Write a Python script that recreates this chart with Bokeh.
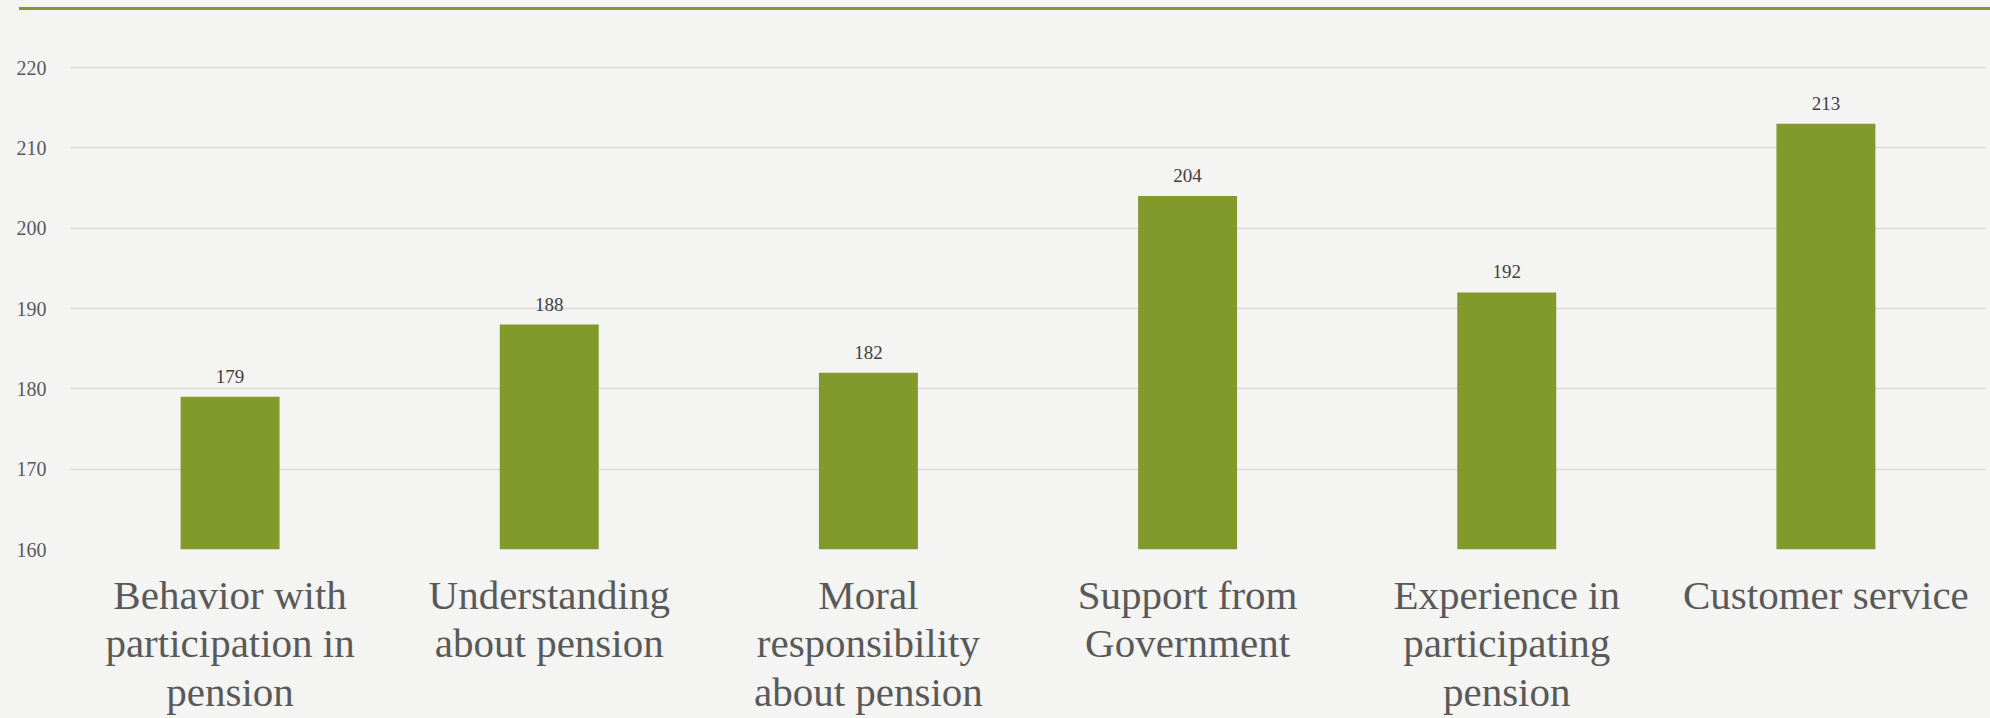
from bokeh.plotting import figure
from bokeh.models import Range1d, FixedTicker, Div, ColumnDataSource
from bokeh.layouts import column
from bokeh.core.properties import value
from bokeh.embed import file_html
from bokeh.resources import INLINE

categories = [
    "Behavior with\nparticipation in\npension",
    "Understanding\nabout pension",
    "Moral\nresponsibility\nabout pension",
    "Support from\nGovernment",
    "Experience in\nparticipating\npension",
    "Customer service",
]
scores = [179, 188, 182, 204, 192, 213]
y_ticks = [160, 170, 180, 190, 200, 210, 220]

BG = "#f4f4f3"
GREEN = "#82992c"
SERIF = "Liberation Serif"

source = ColumnDataSource(dict(cat=categories, score=scores, label=[str(v) for v in scores]))

p = figure(
    x_range=categories,
    y_range=Range1d(160, 220.25),
    width=1990,
    height=708,
    output_backend="svg",
    toolbar_location=None,
    min_border_left=70,
    min_border_right=5,
    min_border_top=55,
    min_border_bottom=150,
)
p.background_fill_color = BG
p.border_fill_color = BG
p.outline_line_color = None

p.vbar(x="cat", top="score", bottom=160, width=0.31, source=source,
       fill_color=GREEN, line_color=None)
p.text(x="cat", y="score", text="label", source=source,
       text_align="center", text_baseline="bottom", y_offset=-14,
       text_font=value(SERIF), text_font_size="19px", text_color="#404040")

p.yaxis.ticker = FixedTicker(ticks=y_ticks)
p.ygrid.ticker = FixedTicker(ticks=y_ticks)
p.ygrid.grid_line_color = "#d9d9d9"
p.ygrid.grid_line_width = 1.5
p.xgrid.grid_line_color = None

p.yaxis.axis_line_color = None
p.yaxis.major_tick_line_color = None
p.yaxis.minor_tick_line_color = None
p.yaxis.major_label_text_font = SERIF
p.yaxis.major_label_text_font_size = "20px"
p.yaxis.major_label_text_color = "#595959"
p.yaxis.major_label_standoff = 18

p.xaxis.axis_line_color = None
p.xaxis.major_tick_line_color = None
p.xaxis.major_label_text_font = SERIF
p.xaxis.major_label_text_font_size = "41px"
p.xaxis.major_label_text_color = "#595959"
p.xaxis.major_label_standoff = 16
p.xaxis.major_label_text_line_height = 1.06

top_line = Div(text="", width=1971, height=3, margin=(7, 0, 0, 19),
               styles={"background-color": GREEN})

layout = column(top_line, p, spacing=0, styles={"background-color": BG})
open("out.html", "w").write(file_html(layout, INLINE))
